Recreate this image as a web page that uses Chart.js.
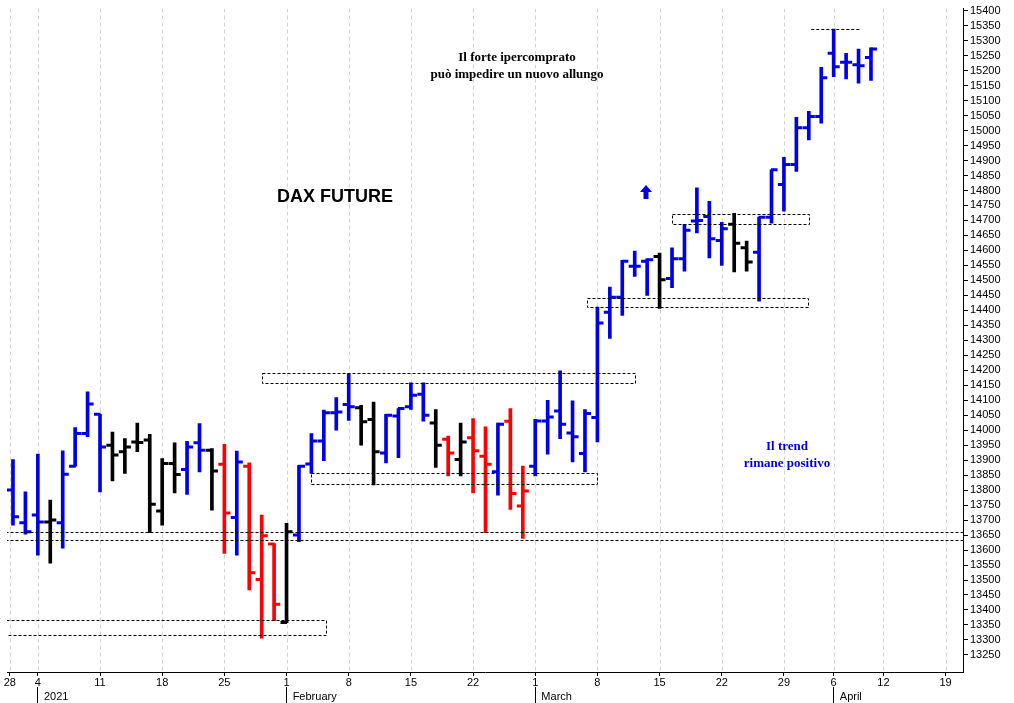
<!DOCTYPE html>
<html><head><meta charset="utf-8">
<script src="https://cdn.jsdelivr.net/npm/chart.js@4"></script>
<style>html,body{margin:0;padding:0;background:#fff}#w{width:1014px;height:703px}</style>
</head><body><div id="w"><canvas id="c"></canvas></div>
<script>
const opens  = [13800,13691,13717,13694,13691,13880,13989,14053,13950,13928,13961,13967,13730,13889,13869,13958,13933,13886,13709,13880,13502,13620,13358,13650,13887,13964,14058,14086,14075,14036,13924,14047,14078,14120,14024,13970,13902,13975,13913,13861,14030,13747,13880,14031,14064,13991,13922,14042,14394,14444,14547,14564,14580,14506,14572,14698,14713,14633,14687,14609,14594,14711,14820,14887,15009,15047,15258,15228,15220,15244];
const highs  = [13902,13794,13920,13767,13931,14009,14128,14053,13994,13972,14024,13986,13905,13958,13963,14022,13939,13953,13930,13891,13717,13622,13689,13883,13989,14067,14109,14189,14083,14094,14053,14072,14158,14158,14069,13980,14024,14039,14011,14024,14072,13880,14036,14100,14198,14098,14069,14411,14478,14567,14598,14572,14591,14609,14687,14809,14764,14694,14724,14631,14711,14869,14911,15044,15064,15211,15339,15258,15272,15276];
const lows   = [13683,13653,13583,13556,13606,13880,13978,13794,13831,13856,13928,13658,13683,13791,13786,13861,13733,13589,13583,13467,13306,13364,13358,13628,13856,13898,14000,14033,13950,13817,13891,13908,14069,14030,13876,13847,13847,13791,13658,13783,13736,13639,13847,13920,13972,13894,13861,13961,14306,14383,14513,14450,14406,14476,14531,14658,14575,14550,14528,14531,14431,14691,14731,14864,14969,15025,15180,15172,15158,15167];
const closes = [13711,13661,13694,13700,13853,13989,14087,13944,13917,13944,13959,13753,13889,13852,13944,13933,13864,13724,13894,13524,13648,13419,13661,13880,13964,14058,14061,14078,14028,13928,14050,14072,14117,14050,13950,13924,13961,13931,13886,14020,13789,13797,14031,14044,14020,13978,14056,14358,14444,14564,14547,14569,14502,14572,14667,14700,14639,14672,14624,14561,14711,14869,14887,15009,15047,15176,15213,15228,15216,15272];
const colorCodes = "bbbkbbbbkkkkkkbbkrbrrrkbbbbbkkbbbbkrkrrbrrbbbbbbbbbbkbbbbbkkbbbbbbbbbb".split("");
const dayTicks = [[-0.25,"28"],[2,"4"],[7,"11"],[12,"18"],[17,"25"],[22,"1"],[27,"8"],[32,"15"],[37,"22"],[42,"1"],[47,"8"],[52,"15"],[57,"22"],[62,"29"],[66,"6"],[70,"12"],[75,"19"]];
const monthTicks = [[2,"2021"],[22,"February"],[42,"March"],[66,"April"]];
const yTickValues = []; for (let v=13250; v<=15400; v+=50) yTickValues.push(v);
const boxes = [ // [x0,x1,yLow,yHigh]
 [-0.6,25.1,13317,13367],[24,47,13820,13858],[20,50,14160,14192],[46.2,64,14410,14440],[53,64,14690,14722]];
const hLines = [[-0.6,77,13660],[-0.6,77,13633],[64.2,68.2,15340]];
const pal = {b:"#0000e6",k:"#000000",r:"#ff0000"};
const cols = colorCodes.map(c=>pal[c]);
const idx = opens.map((_,i)=>i);

const annot = {
 id:"annot",
 beforeDatasetsDraw(ch){
  const {ctx,scales:{x},chartArea:a}=ch;
  ctx.save(); ctx.strokeStyle="#d4d4d4"; ctx.lineWidth=1; ctx.setLineDash([4,3]);
  dayTicks.forEach(t=>{const xx=Math.round(x.getPixelForValue(t[0]))+0.5; if(xx<a.left+2)return; ctx.beginPath();ctx.moveTo(xx,a.top);ctx.lineTo(xx,a.bottom);ctx.stroke();});
  ctx.restore();
 },
 afterDatasetsDraw(ch){
  const {ctx,scales:{x,y},chartArea:a}=ch;
  ctx.save();
  ctx.beginPath(); ctx.rect(a.left,a.top,a.right-a.left,a.bottom-a.top); ctx.clip();
  ctx.strokeStyle="#000"; ctx.lineWidth=1; ctx.setLineDash([3,2]);
  boxes.forEach(b=>{const x0=x.getPixelForValue(b[0]),x1=x.getPixelForValue(b[1]),y0=y.getPixelForValue(b[3]),y1=y.getPixelForValue(b[2]);ctx.strokeRect(Math.round(x0)+0.5,Math.round(y0)+0.5,Math.round(x1-x0),Math.round(y1-y0));});
  hLines.forEach(l=>{const yy=Math.round(y.getPixelForValue(l[2]))+0.5;ctx.beginPath();ctx.moveTo(x.getPixelForValue(l[0]),yy);ctx.lineTo(x.getPixelForValue(l[1]),yy);ctx.stroke();});
  ctx.setLineDash([]);
  ctx.restore();
  ctx.save();
  ctx.textAlign="center"; ctx.textBaseline="middle";
  ctx.fillStyle="#000"; ctx.font="bold 18px 'Liberation Sans', Arial";
  ctx.fillText("DAX FUTURE",335,197);
  ctx.font="bold 13px 'Liberation Serif', serif";
  ctx.fillText("Il forte ipercomprato",517,58);
  ctx.fillText("può impedire un nuovo allungo",517,75);
  ctx.fillStyle="#0000e6";
  ctx.fillText("Il trend",787,447);
  ctx.fillText("rimane positivo",787,464);
  ctx.beginPath(); ctx.moveTo(646,185); ctx.lineTo(652,192); ctx.lineTo(648.5,192); ctx.lineTo(648.5,199); ctx.lineTo(643.5,199); ctx.lineTo(643.5,192); ctx.lineTo(640,192); ctx.closePath(); ctx.fill();
  ctx.restore();
 }
};
const F = {family:"'Liberation Sans', Arial",size:11};
new Chart(document.getElementById("c"),{
 type:"bar",
 data:{datasets:[
  {type:"bar",xAxisID:"x",data:idx.map(i=>({x:i,y:[lows[i],highs[i]]})),backgroundColor:cols,barThickness:3,borderWidth:0,order:2},
  {type:"scatter",xAxisID:"x",data:idx.map(i=>({x:i-0.22,y:opens[i]})),pointStyle:"line",radius:3.3,borderWidth:3,borderColor:cols,order:1},
  {type:"scatter",xAxisID:"x",data:idx.map(i=>({x:i+0.22,y:closes[i]})),pointStyle:"line",radius:3.3,borderWidth:3,borderColor:cols,order:1}
 ]},
 options:{
  responsive:true,maintainAspectRatio:false,animation:false,
  layout:{padding:{left:-8,right:0,top:0,bottom:0}},
  plugins:{legend:{display:false},tooltip:{enabled:false}},
  scales:{
   x:{type:"linear",position:"bottom",min:-0.48,max:76.4,offset:false,
      afterBuildTicks(s){s.ticks=dayTicks.map(t=>({value:t[0]}));},
      ticks:{autoSkip:false,maxRotation:0,padding:0,color:"#000",font:F,
        callback(v){const t=dayTicks.find(d=>d[0]===v);return t?t[1]:"";}},
      grid:{offset:false,drawOnChartArea:false,tickLength:4,tickColor:"#000"},border:{color:"#000"},
      afterFit(s){s.height=15;}},
   x2:{type:"linear",position:"bottom",min:-0.48,max:76.4,offset:false,
      afterBuildTicks(s){s.ticks=monthTicks.map(t=>({value:t[0]}));},
      ticks:{autoSkip:false,maxRotation:0,align:"start",padding:-13,color:"#000",font:F,
        callback(v){const t=monthTicks.find(d=>d[0]===v);return t?"  "+t[1]:"";}},
      grid:{offset:false,drawOnChartArea:false,tickLength:16,tickColor:"#000"},border:{display:false},
      afterFit(s){s.height=16;}},
   y:{type:"linear",position:"right",min:13193,max:15407,
      afterBuildTicks(s){s.ticks=yTickValues.map(v=>({value:v}));},
      ticks:{autoSkip:false,color:"#000",padding:2,font:F,callback:v=>String(v)},
      grid:{drawOnChartArea:false,tickLength:5,tickColor:"#000"},border:{color:"#000"},afterFit(s){s.width=51;}}
  }
 },
 plugins:[annot]
});
</script>
</body></html>
